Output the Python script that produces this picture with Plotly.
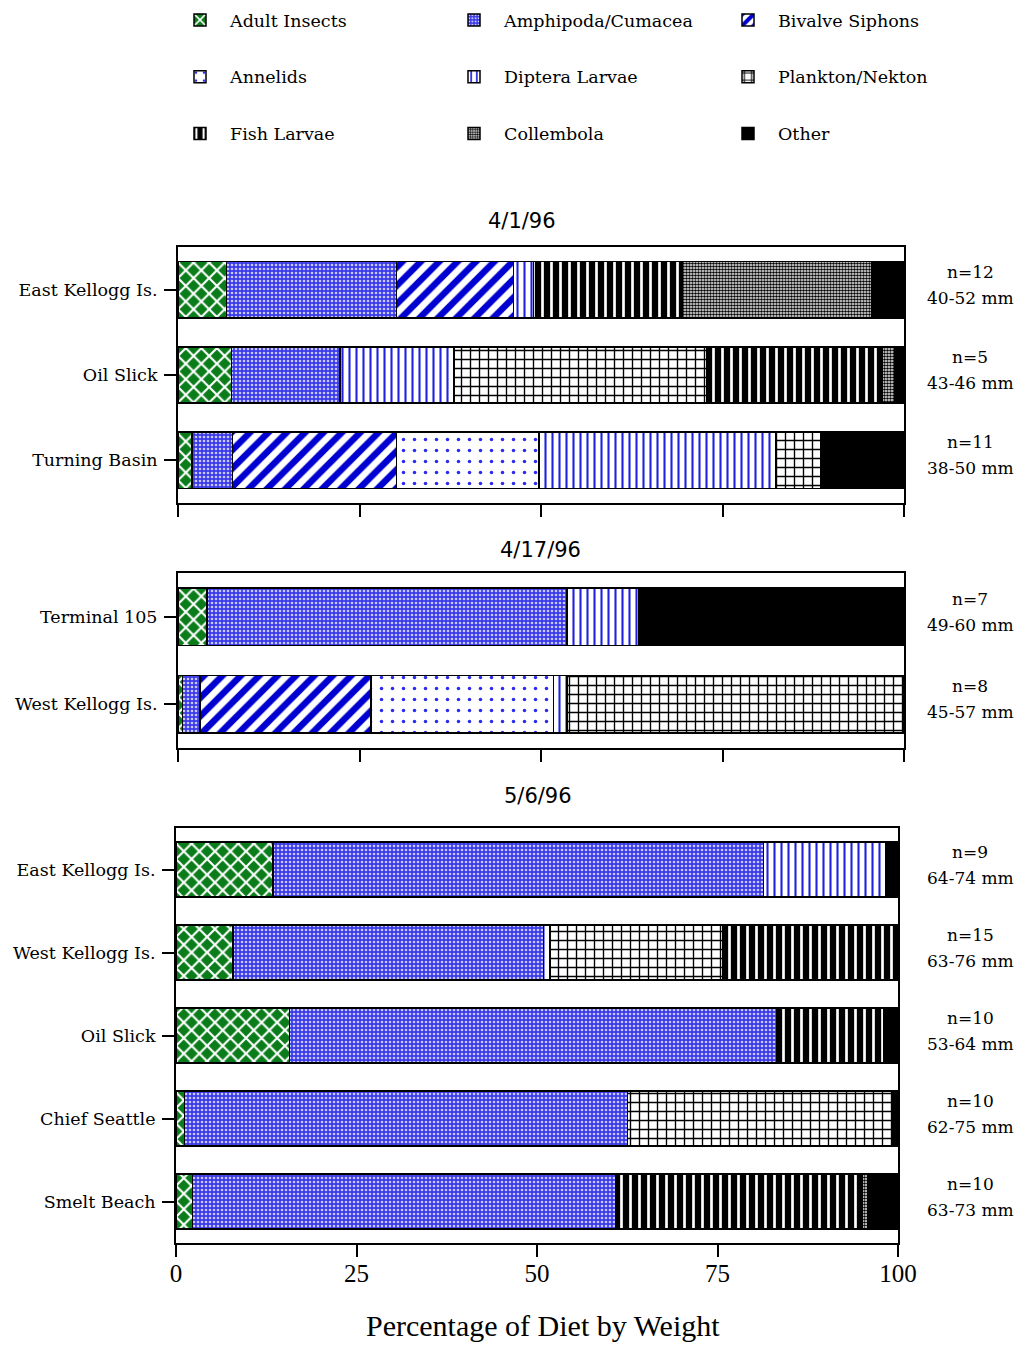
import plotly.graph_objects as go

# ---------------- data ----------------
prey = ["Adult Insects", "Amphipoda/Cumacea", "Bivalve Siphons", "Annelids",
        "Diptera Larvae", "Plankton/Nekton", "Fish Larvae", "Collembola", "Other"]

# Panel 1: 4/1/96
sites_p1 = ["East Kellogg Is.", "Oil Slick", "Turning Basin"]
n_p1 = ["n=12", "n=5", "n=11"]
len_p1 = ["40-52 mm", "43-46 mm", "38-50 mm"]
adult_p1 = [6.7, 7.4, 1.9]
amphi_p1 = [23.4, 14.9, 5.6]
bival_p1 = [16.1, 0.0, 22.6]
annel_p1 = [0.0, 0.0, 19.6]
dipte_p1 = [2.8, 15.7, 32.6]
plank_p1 = [0.0, 34.8, 6.2]
fish_p1 = [20.4, 24.2, 0.0]
colle_p1 = [26.2, 1.7, 0.0]
other_p1 = [4.4, 1.2, 11.4]

# Panel 2: 4/17/96
sites_p2 = ["Terminal 105", "West Kellogg Is."]
n_p2 = ["n=7", "n=8"]
len_p2 = ["49-60 mm", "45-57 mm"]
adult_p2 = [4.0, 0.6]
amphi_p2 = [49.6, 2.4]
bival_p2 = [0.0, 23.6]
annel_p2 = [0.0, 25.1]
dipte_p2 = [9.8, 1.9]
plank_p2 = [0.0, 46.4]
fish_p2 = [0.0, 0.0]
colle_p2 = [0.0, 0.0]
other_p2 = [36.6, 0.0]

# Panel 3: 5/6/96
sites_p3 = ["East Kellogg Is.", "West Kellogg Is.", "Oil Slick", "Chief Seattle", "Smelt Beach"]
n_p3 = ["n=9", "n=15", "n=10", "n=10", "n=10"]
len_p3 = ["64-74 mm", "63-76 mm", "53-64 mm", "62-75 mm", "63-73 mm"]
adult_p3 = [13.4, 7.9, 15.7, 1.2, 2.3]
amphi_p3 = [68.0, 43.0, 67.5, 61.3, 58.6]
bival_p3 = [0.0, 0.0, 0.0, 0.0, 0.0]
annel_p3 = [0.0, 0.0, 0.0, 0.0, 0.0]
dipte_p3 = [16.9, 0.9, 0.0, 0.0, 0.0]
plank_p3 = [0.0, 23.9, 0.0, 36.8, 0.0]
fish_p3 = [0.0, 24.3, 14.8, 0.0, 34.1]
colle_p3 = [0.0, 0.0, 0.0, 0.0, 0.8]
other_p3 = [1.7, 0.0, 2.0, 0.7, 4.2]

panel_titles = ["4/1/96", "4/17/96", "5/6/96"]
x_ticks = [0, 25, 50, 75, 100]
x_title = "Percentage of Diet by Weight"

# ---------------- styles ----------------
styles = {
    "Adult Insects": dict(color="#0a7d1a", pattern=dict(shape="x", fgcolor="white", bgcolor="#0a7d1a", size=11, solidity=0.35, fillmode="replace")),
    "Amphipoda/Cumacea": dict(color="#4a4af2", pattern=dict(shape=".", fgcolor="#c8c8ff", bgcolor="#3a3ae8", size=4, solidity=0.35, fillmode="replace")),
    "Bivalve Siphons": dict(color="#0000d0", pattern=dict(shape="/", fgcolor="#0000d0", bgcolor="white", size=13, solidity=0.5, fillmode="replace")),
    "Annelids": dict(color="#2a2af0", pattern=dict(shape=".", fgcolor="#2a2af0", bgcolor="white", size=11, solidity=0.08, fillmode="replace")),
    "Diptera Larvae": dict(color="#2020e0", pattern=dict(shape="|", fgcolor="#2020e0", bgcolor="white", size=7, solidity=0.3, fillmode="replace")),
    "Plankton/Nekton": dict(color="black", pattern=dict(shape="+", fgcolor="black", bgcolor="white", size=9, solidity=0.28, fillmode="replace")),
    "Fish Larvae": dict(color="black", pattern=dict(shape="|", fgcolor="white", bgcolor="black", size=9, solidity=0.3, fillmode="replace")),
    "Collembola": dict(color="#777777", pattern=dict(shape=".", fgcolor="black", bgcolor="white", size=3, solidity=0.6, fillmode="replace")),
    "Other": dict(color="black", pattern=None),
}

panels = [
    (sites_p1, n_p1, len_p1, [adult_p1, amphi_p1, bival_p1, annel_p1, dipte_p1, plank_p1, fish_p1, colle_p1, other_p1]),
    (sites_p2, n_p2, len_p2, [adult_p2, amphi_p2, bival_p2, annel_p2, dipte_p2, plank_p2, fish_p2, colle_p2, other_p2]),
    (sites_p3, n_p3, len_p3, [adult_p3, amphi_p3, bival_p3, annel_p3, dipte_p3, plank_p3, fish_p3, colle_p3, other_p3]),
]

legend_of = {
    "Adult Insects": "legend", "Annelids": "legend", "Fish Larvae": "legend",
    "Amphipoda/Cumacea": "legend2", "Diptera Larvae": "legend2", "Collembola": "legend2",
    "Bivalve Siphons": "legend3", "Plankton/Nekton": "legend3", "Other": "legend3",
}

# page has an 8px body margin; figure fits exactly inside the 1023x1354 window
OFF = 8
W, H = 1023 - 2 * OFF, 1354 - 2 * OFF
def px(x):
    return (x - OFF) / W
def py(y):
    return 1 - (y - OFF) / H

x_domains = [[px(178), px(904)], [px(178), px(904)], [px(176), px(898)]]
y_domains = [[py(503), py(247)], [py(748), py(573)], [py(1243), py(828)]]

fig = go.Figure()

serif = "DejaVu Serif"
sans = "DejaVu Sans"

for pi, (sites, ns, lens, series) in enumerate(panels):
    xa = "x" if pi == 0 else f"x{pi+1}"
    ya = "y" if pi == 0 else f"y{pi+1}"
    for name, vals in zip(prey, series):
        st = styles[name]
        marker = dict(color=st["color"], line=dict(color="black", width=1.5))
        if st["pattern"] is not None:
            marker["pattern"] = st["pattern"]
        fig.add_trace(go.Bar(
            x=vals, y=sites, orientation="h", name=name,
            marker=marker, width=0.66, xaxis=xa, yaxis=ya,
            showlegend=(pi == 0), legend=legend_of[name],
            legendgroup=name,
        ))
    for s, nn, ll in zip(sites, ns, lens):
        fig.add_annotation(text=nn, x=px(970), y=s, xref="paper", yref=ya,
                           showarrow=False, xanchor="center", yanchor="middle", yshift=18,
                           font=dict(family=serif, size=17, color="black"))
        fig.add_annotation(text=ll, x=px(970), y=s, xref="paper", yref=ya,
                           showarrow=False, xanchor="center", yanchor="middle", yshift=-8,
                           font=dict(family=serif, size=17, color="black"))

layout = dict(
    barmode="stack",
    width=W, height=H,
    margin=dict(l=0, r=0, t=0, b=0, autoexpand=False),
    paper_bgcolor="white", plot_bgcolor="white",
)

for pi in range(3):
    sfx = "" if pi == 0 else str(pi + 1)
    sites = panels[pi][0]
    layout[f"xaxis{sfx}"] = dict(
        domain=x_domains[pi], range=[0, 100], anchor=f"y{sfx}",
        tickvals=x_ticks, showticklabels=(pi == 2), ticks="outside", ticklen=12,
        tickwidth=2, tickcolor="black", showline=True, linecolor="black", linewidth=2,
        mirror=True, showgrid=False, zeroline=False, automargin=False,
        ticklabelstandoff=-5,
        tickfont=dict(family="Liberation Serif", size=25, color="black"),
    )
    layout[f"yaxis{sfx}"] = dict(
        domain=y_domains[pi], anchor=f"x{sfx}", type="category",
        categoryorder="array", categoryarray=sites, autorange="reversed",
        ticks="outside", ticklen=12, tickwidth=2, tickcolor="black",
        showline=True, linecolor="black", linewidth=2, mirror=True,
        showgrid=False, zeroline=False, automargin=False,
        ticklabelstandoff=3,
        tickfont=dict(family=serif, size=17.5, color="black"),
    )

leg_common = dict(orientation="v", yanchor="top", xanchor="left", y=py(2),
                  font=dict(family=serif, size=17.5, color="black"),
                  tracegroupgap=31, bgcolor="rgba(0,0,0,0)", itemwidth=50,
                  traceorder="grouped")
layout["legend"] = dict(leg_common, x=px(170))
layout["legend2"] = dict(leg_common, x=px(444))
layout["legend3"] = dict(leg_common, x=px(718))

fig.update_layout(**layout)

title_y = [221, 550, 796]
title_x = [522, 540, 538]
for t, yy, xx in zip(panel_titles, title_y, title_x):
    fig.add_annotation(text=t, x=px(xx), y=py(yy), xref="paper", yref="paper",
                       showarrow=False, xanchor="center", yanchor="middle",
                       font=dict(family=sans, size=21, color="black"))

fig.add_annotation(text=x_title, x=px(543), y=py(1325), xref="paper", yref="paper",
                   showarrow=False, xanchor="center", yanchor="middle",
                   font=dict(family="Liberation Serif", size=30, color="black"))

fig.write_html("out.html")
